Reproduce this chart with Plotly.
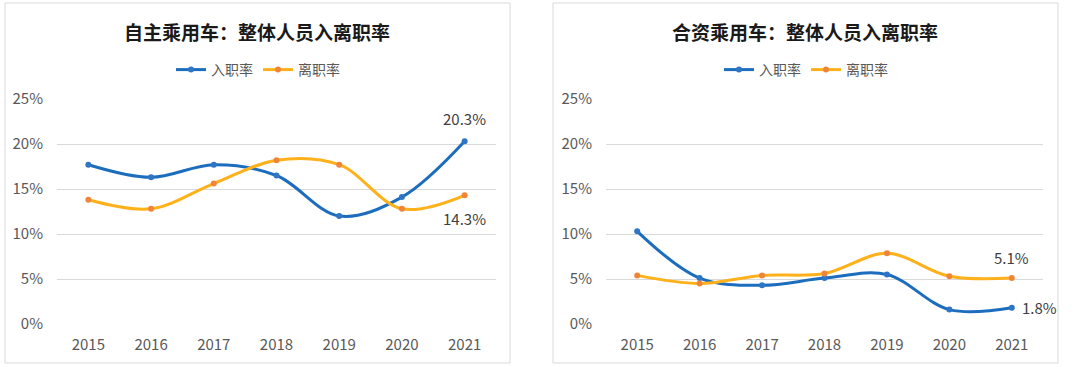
import plotly.graph_objects as go

years = ["2015", "2016", "2017", "2018", "2019", "2020", "2021"]
y_ticks = [0, 5, 10, 15, 20, 25]
y_tick_labels = ["0%", "5%", "10%", "15%", "20%", "25%"]

own_hire = [17.7, 16.3, 17.7, 16.5, 12.0, 14.1, 20.3]
own_quit = [13.8, 12.8, 15.6, 18.2, 17.7, 12.8, 14.3]
jv_hire = [10.3, 5.1, 4.3, 5.1, 5.5, 1.6, 1.8]
jv_quit = [5.4, 4.5, 5.4, 5.6, 7.85, 5.3, 5.1]

title_left = "自主乘用车：整体人员入离职率"
title_right = "合资乘用车：整体人员入离职率"
name_hire = "入职率"
name_quit = "离职率"

W, H = 1080, 367
BLUE_LINE = "#1C6DBE"
BLUE_MK = "#2E75C6"
ORANGE_LINE = "#FFB11B"
ORANGE_MK = "#F08539"
FONT = "Noto Sans CJK SC"

def px(x):
    return x / W

def py(y):
    return 1 - y / H

fig = go.Figure()

def add_pair(hire, quit_, xa, ya, legend):
    fig.add_trace(go.Scatter(
        x=years, y=hire, name=name_hire, mode="lines+markers",
        line=dict(color=BLUE_LINE, width=3, shape="spline", smoothing=1.0),
        marker=dict(color=BLUE_MK, size=6),
        xaxis=xa, yaxis=ya, legend=legend, hoverinfo="skip"))
    fig.add_trace(go.Scatter(
        x=years, y=quit_, name=name_quit, mode="lines+markers",
        line=dict(color=ORANGE_LINE, width=3, shape="spline", smoothing=1.0),
        marker=dict(color=ORANGE_MK, size=6),
        xaxis=xa, yaxis=ya, legend=legend, hoverinfo="skip"))

add_pair(own_hire, own_quit, "x", "y", "legend")
add_pair(jv_hire, jv_quit, "x2", "y2", "legend2")

axis_font = dict(family=FONT, size=15, color="#595959")
ydom = [py(324), py(99)]

def xaxis(dom, anchor):
    return dict(domain=dom, type="category", range=[-0.5, 6.5], anchor=anchor,
                automargin=False,
                showgrid=False, showline=False, zeroline=False,
                ticks="outside", ticklen=7, tickcolor="rgba(0,0,0,0)",
                tickfont=axis_font, fixedrange=True)

def yaxis(anchor):
    return dict(domain=ydom, range=[0, 25], tickmode="array",
                tickvals=y_ticks, ticktext=y_tick_labels,
                automargin=False,
                showgrid=True, gridcolor="#D9D9D9", gridwidth=1,
                zeroline=False, showline=False, anchor=anchor,
                ticks="outside", ticklen=10, tickcolor="rgba(0,0,0,0)",
                tickfont=axis_font, fixedrange=True)

leg_common = dict(orientation="h", yanchor="middle", xanchor="center",
                  font=dict(family=FONT, size=14, color="#595959"),
                  bgcolor="rgba(0,0,0,0)")

fig.update_layout(
    width=W, height=H, autosize=False, margin=dict(l=0, r=0, t=0, b=0, pad=0),
    paper_bgcolor="white", plot_bgcolor="white",
    font=dict(family=FONT),
    xaxis=xaxis([px(57), px(496)], "y"),
    yaxis=yaxis("x"),
    xaxis2=xaxis([px(606), px(1043)], "y2"),
    yaxis2=yaxis("x2"),
    legend=dict(x=px(258), y=py(70), **leg_common),
    legend2=dict(x=px(806), y=py(70), **leg_common),
)

# panel borders
for x0, x1 in [(5, 510), (553, 1058)]:
    fig.add_shape(type="rect", xref="paper", yref="paper",
                  x0=px(x0), x1=px(x1), y0=py(363), y1=py(3),
                  line=dict(color="#D9D9D9", width=1), fillcolor="rgba(0,0,0,0)",
                  layer="below")

# titles
for t, cx in [(title_left, 257), (title_right, 805)]:
    fig.add_annotation(text="<b>" + t + "</b>", xref="paper", yref="paper",
                       x=px(cx), y=py(32), xanchor="center", yanchor="middle",
                       showarrow=False,
                       font=dict(family=FONT, size=19, color="#1a1a1a"))

lab_font = dict(family=FONT, size=15, color="#404040")
labels = [
    ("x", "y", own_hire[-1], 0, 23, "center"),
    ("x", "y", own_quit[-1], 0, -23, "center"),
    ("x2", "y2", jv_quit[-1], 0, 21, "center"),
    ("x2", "y2", jv_hire[-1], 8, 0, "left"),
]
for xr, yr, v, xs, ys, xa in labels:
    fig.add_annotation(x=6, y=v, xref=xr, yref=yr,
                       text=f"{v:.1f}%", showarrow=False, xanchor=xa,
                       xshift=xs, yshift=ys, font=lab_font)

# pin the figure to the page's top-left corner (no body margin)
post = (
    "document.documentElement.style.margin='0';"
    "document.body.style.margin='0';"
    "document.body.style.overflow='hidden';"
    "var gd=document.getElementById('{plot_id}');"
    "gd.style.position='fixed';gd.style.left='0px';gd.style.top='0px';"
)

fig.write_html("out.html", include_plotlyjs=True, full_html=True,
               config={"displayModeBar": False, "staticPlot": True},
               post_script=post)
